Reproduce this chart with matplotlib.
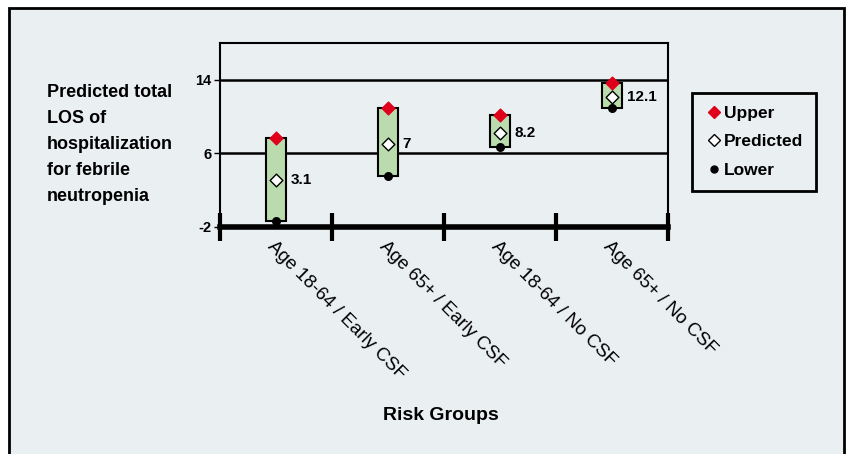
import matplotlib
matplotlib.use("Agg")
import matplotlib.pyplot as plt
from matplotlib.lines import Line2D
from matplotlib.patches import Rectangle

# data
groups = ["Age 18-64 / Early CSF", "Age 65+ / Early CSF", "Age 18-64 / No CSF", "Age 65+ / No CSF"]
upper = [7.7, 10.9, 10.1, 13.6]
predicted = [3.1, 7.0, 8.2, 12.1]
lower = [-1.4, 3.5, 6.7, 10.9]
yticks = [-2, 6, 14]

plt.rcParams['font.family'] = ['Liberation Sans Narrow', 'Liberation Sans', 'DejaVu Sans']

bg = '#eaeff2'
fig = plt.figure(figsize=(8.47, 4.54), dpi=100, facecolor='white')
fig.patches.append(Rectangle((0.011, -0.01), 0.986, 0.992, transform=fig.transFigure,
                             facecolor=bg, edgecolor='black', linewidth=2, zorder=-10))

ax = fig.add_axes([0.2597, 0.5007, 0.529, 0.405])
ax.set_facecolor(bg)
x = list(range(len(groups)))

# grid lines
for v in yticks[1:]:
    ax.axhline(v, color='black', linewidth=1.8, zorder=1)

heights = [u - l for u, l in zip(upper, lower)]
ax.bar(x, heights, bottom=lower, width=0.18, color='#b9dbae', edgecolor='black',
       linewidth=1.5, zorder=2)
ax.scatter(x, upper, marker='D', s=42, color='#e0001b', edgecolor='#e0001b', zorder=3)
ax.scatter(x, predicted, marker='D', s=42, color='white', edgecolor='black', linewidth=1, zorder=3)
ax.scatter(x, lower, marker='o', s=30, color='black', zorder=3)

for xi, p in zip(x, predicted):
    ax.text(xi + 0.13, p, f"{p:g}", ha='left', va='center', fontsize=11, fontweight='bold')

ax.set_xlim(-0.5, 3.5)
ax.set_ylim(-2, 18)
ax.set_yticks(yticks)
ax.set_yticklabels([str(v) for v in yticks], fontsize=10.5, fontweight='bold')
ax.tick_params(axis='y', length=4, width=1, direction='out', pad=2)

ax.set_xticks([i - 0.5 for i in range(len(groups) + 1)])
ax.set_xticklabels([])
ax.tick_params(axis='x', which='major', length=20, width=3, direction='inout')
ax.set_xticks(x, minor=True)
ax.set_xticklabels(groups, minor=True, rotation=-45, ha='left', va='top',
                   rotation_mode='anchor', fontsize=13.5)
ax.tick_params(axis='x', which='minor', length=0, pad=8)

for side in ['top', 'right', 'left']:
    ax.spines[side].set_linewidth(1.5)
ax.spines['bottom'].set_linewidth(4)

fig.text(0.055, 0.815, "Predicted total\nLOS of\nhospitalization\nfor febrile\nneutropenia",
         ha='left', va='top', fontsize=13, fontweight='bold', linespacing=1.7)
fig.text(0.52, 0.085, "Risk Groups", ha='center', va='center', fontsize=14, fontweight='bold')

handles = [
    Line2D([], [], marker='D', linestyle='none', markersize=6, color='#e0001b', label='Upper'),
    Line2D([], [], marker='D', linestyle='none', markersize=6, markerfacecolor='white',
           markeredgecolor='black', label='Predicted'),
    Line2D([], [], marker='o', linestyle='none', markersize=5, color='black', label='Lower'),
]
leg = fig.legend(handles=handles, loc='upper left', bbox_to_anchor=(0.817, 0.795),
                 frameon=True, fancybox=False, edgecolor='black', facecolor=bg,
                 prop={'size': 12.5, 'weight': 'bold'}, handletextpad=0.1,
                 borderpad=0.75, labelspacing=0.75, handlelength=1.0, borderaxespad=0)
leg.get_frame().set_linewidth(2)
leg.get_frame().set_alpha(None)

fig.savefig("out.png", dpi=100, facecolor=fig.get_facecolor())
